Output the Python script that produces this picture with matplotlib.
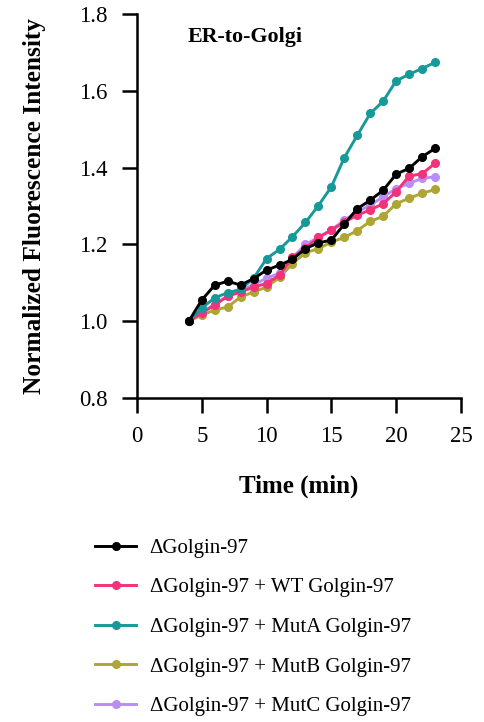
import matplotlib
matplotlib.use("Agg")
from matplotlib import pyplot as plt

plt.rcParams['font.family'] = ['Liberation Serif', 'DejaVu Serif']

# data
time_min = list(range(4, 24))
labels = ['ΔGolgin-97', 'ΔGolgin-97 + WT Golgin-97', 'ΔGolgin-97 + MutA Golgin-97',
          'ΔGolgin-97 + MutB Golgin-97', 'ΔGolgin-97 + MutC Golgin-97']
colors = ['#000000', '#F3327A', '#17999A', '#ADA633', '#BA8CF7']

delta = [1.000, 1.055, 1.094, 1.104, 1.094, 1.111, 1.133, 1.146, 1.161, 1.189,
         1.204, 1.211, 1.253, 1.293, 1.315, 1.341, 1.383, 1.398, 1.428, 1.450]
wt = [1.000, 1.022, 1.042, 1.065, 1.076, 1.089, 1.098, 1.120, 1.166, 1.190,
      1.218, 1.237, 1.258, 1.276, 1.290, 1.306, 1.337, 1.378, 1.384, 1.411]
muta = [1.000, 1.034, 1.061, 1.074, 1.083, 1.112, 1.163, 1.187, 1.220, 1.257,
        1.301, 1.350, 1.426, 1.484, 1.541, 1.573, 1.626, 1.643, 1.658, 1.674]
mutb = [1.000, 1.016, 1.029, 1.037, 1.063, 1.076, 1.089, 1.114, 1.150, 1.178,
        1.189, 1.206, 1.218, 1.236, 1.260, 1.273, 1.306, 1.320, 1.333, 1.343]
mutc = [1.000, 1.020, 1.045, 1.065, 1.080, 1.095, 1.112, 1.125, 1.165, 1.200,
        1.218, 1.238, 1.263, 1.285, 1.302, 1.324, 1.345, 1.359, 1.372, 1.376]
series = [delta, wt, muta, mutb, mutc]
z_order = [6, 4, 5, 2, 3]

fig = plt.figure(figsize=(4.84, 7.22), dpi=100)
ax = fig.add_axes([0.283, 0.4488, 0.6694, 0.5318])

handles = []
for vals, lab, col, z in zip(series, labels, colors, z_order):
    h, = ax.plot(time_min, vals, color=col, lw=2.1, marker='o', ms=5.5,
                 label=lab, zorder=z, clip_on=False)
    handles.append(h)

ax.set_xlim(0, 25)
ax.set_ylim(0.8, 1.8)
ax.set_xticks([0, 5, 10, 15, 20, 25])
ax.set_yticks([0.8, 1.0, 1.2, 1.4, 1.6, 1.8])
ax.set_yticklabels(['0.8', '1.0', '1.2', '1.4', '1.6', '1.8'])
ax.tick_params(labelsize=16.5, length=11, width=1.8)
ax.tick_params(axis='x', pad=9)
ax.tick_params(axis='y', pad=10)

for s in ['top', 'right']:
    ax.spines[s].set_visible(False)
for s in ['left', 'bottom']:
    ax.spines[s].set_linewidth(1.8)

ax.set_xlabel('Time (min)', fontsize=18, fontweight='bold', labelpad=20)
ax.set_ylabel('Normalized Fluorescence Intensity', fontsize=18.3, fontweight='bold', labelpad=24)
ax.text(0.155, 0.965, 'ER-to-Golgi', transform=ax.transAxes, fontsize=15.8,
        fontweight='bold', va='top', ha='left')

fig.legend(handles=handles, labels=labels, loc='upper left',
           bbox_to_anchor=(0.157, 0.2805), frameon=False, fontsize=15,
           handlelength=2.0, labelspacing=0.96, handletextpad=0.63)

fig.savefig('out.png', dpi=100)
